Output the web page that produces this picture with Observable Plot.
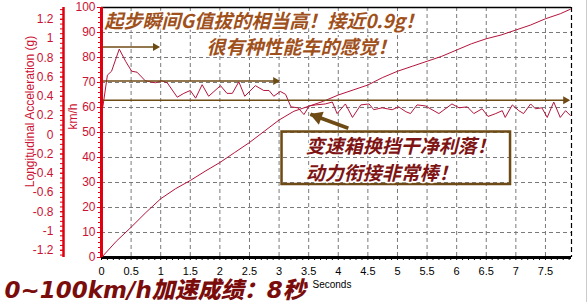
<!DOCTYPE html>
<html><head><meta charset="utf-8">
<script src="https://cdn.jsdelivr.net/npm/d3@7"></script>
<script src="https://cdn.jsdelivr.net/npm/@observablehq/plot@0.6"></script>
<style>body{margin:0;background:#fff} #chart svg{display:block}</style>
</head><body><div id="chart"></div>
<script>
// ---- data ----
const xMax = 7.94;
const speedT = [0, 0.25, 0.5, 0.75, 1.0, 1.25, 1.5, 1.75, 2.0, 2.25, 2.5, 2.75, 3.0, 3.25, 3.5, 3.75, 4.0, 4.25, 4.5, 4.75, 5.0, 5.25, 5.5, 5.75, 6.0, 6.25, 6.5, 6.75, 7.0, 7.25, 7.5, 7.75, 7.92];
const speedV = [0, 6.5, 12.1, 18, 23.5, 27.5, 30.8, 34.5, 38, 42, 46, 50.5, 55, 58.5, 60.5, 62.5, 65, 67, 69, 72, 74.5, 76.5, 78.5, 80.5, 83, 85.5, 87.5, 89, 91, 93, 95.5, 97.5, 99.3];
const accT = [0, 0.03, 0.1, 0.17, 0.30, 0.41, 0.51, 0.60, 0.74, 0.91, 1.02, 1.11, 1.28, 1.39, 1.50, 1.59, 1.70, 1.81, 2.01, 2.12, 2.21, 2.32, 2.42, 2.60, 2.74, 2.83, 2.91, 3.02, 3.11, 3.20, 3.32, 3.42, 3.51, 3.62, 3.78, 3.90, 3.98, 4.12, 4.24, 4.38, 4.52, 4.60, 4.74, 4.91, 5.02, 5.14, 5.22, 5.33, 5.47, 5.70, 5.92, 6.04, 6.18, 6.29, 6.43, 6.53, 6.66, 6.77, 6.82, 6.94, 7.05, 7.13, 7.25, 7.33, 7.44, 7.53, 7.64, 7.75, 7.84, 7.92];
const accG = [0.22, 0.32, 0.62, 0.66, 0.89, 0.76, 0.66, 0.65, 0.56, 0.54, 0.56, 0.54, 0.39, 0.43, 0.46, 0.38, 0.52, 0.40, 0.51, 0.43, 0.43, 0.55, 0.40, 0.51, 0.46, 0.46, 0.40, 0.45, 0.42, 0.29, 0.28, 0.21, 0.30, 0.31, 0.32, 0.34, 0.22, 0.32, 0.18, 0.31, 0.32, 0.26, 0.28, 0.26, 0.29, 0.24, 0.22, 0.31, 0.30, 0.22, 0.32, 0.28, 0.29, 0.22, 0.27, 0.19, 0.22, 0.25, 0.18, 0.31, 0.25, 0.22, 0.32, 0.27, 0.28, 0.18, 0.34, 0.18, 0.25, 0.20];

const xTicks = [0, 0.5, 1, 1.5, 2, 2.5, 3, 3.5, 4, 4.5, 5, 5.5, 6, 6.5, 7, 7.5];
const speedTicks = [0, 10, 20, 30, 40, 50, 60, 70, 80, 90, 100];
const gTicks = [-1.2, -1, -0.8, -0.6, -0.4, -0.2, 0, 0.2, 0.4, 0.6, 0.8, 1, 1.2];
const gridX = [0.5, 1, 1.5, 2, 2.5, 3, 3.5, 4, 4.5, 5, 5.5, 6, 6.5, 7, 7.5];
const gridY = [10, 20, 30, 40, 50, 60, 70, 80, 90];

// annotation arrows (x in seconds, y in km/h units)
const arrowX2 = [0.96, 2.99, 7.89];
const arrowY = [84.2, 70.6, 62.9];
const diagTail = [4.17, 51.7];
const diagTip = [3.53, 57.3];
const noteTop = ["起步瞬间G值拔的相当高！接近0.9g！", "很有种性能车的感觉！"];
const noteTopX = [2.75, 3.38];
const noteTopY = [94.1, 83.7];
const noteBox = ["变速箱换挡干净利落！", "动力衔接非常棒！"];
const noteBoxX = [3.45, 3.45];
const noteBoxY = [44.4, 33.6];
const boxX = [3.05, 6.91];
const boxY = [29.2, 50.2];
const bottomTitle = "0~100km/h加速成绩：8秒";

// g axis shares the vertical space with km/h axis
const gToV = g => 49.1 + 38.5 * g;
const vToG = v => (v - 49.1) / 38.5;

const red = "#e00010";
const labelRed = "#cc1133";
const lineCol = "#b4143c";
const brown = "#6e4a14";

const speed = speedT.map((t, i) => ({t, v: speedV[i]}));
const acc = accT.map((t, i) => ({t, v: gToV(accG[i])}));
const xMinor = d3.range(0, 80).map(i => i / 10);
const vMinor = d3.range(0, 101, 2);
const gMinor = d3.range(-25, 27).map(i => gToV(i * 0.05));
const arrows = arrowX2.map((x2, i) => ({x1: 0, x2, y: arrowY[i]}));

const cjk = "'Noto Sans CJK SC', sans-serif";

const chart = Plot.plot({
  width: 588, height: 302,
  marginLeft: 101, marginRight: 17, marginTop: 7, marginBottom: 45,
  style: {fontFamily: "'Liberation Sans', Arial, sans-serif", background: "white", overflow: "visible"},
  x: {domain: [0, xMax]},
  y: {domain: [0, 100]},
  marks: [
    Plot.ruleX(gridX, {stroke: "#7a7a7a", strokeDasharray: "4,3", strokeWidth: 1}),
    Plot.ruleY(gridY, {stroke: "#7a7a7a", strokeDasharray: "4,3", strokeWidth: 1}),
    Plot.ruleY([100], {stroke: "black", strokeWidth: 1.5}),
    Plot.ruleX([xMax], {stroke: "black", strokeDasharray: "5,3", strokeWidth: 1.2}),
    Plot.ruleX([xMax], {dx: 15, stroke: "#cccccc", strokeWidth: 1, y1: 100, y2: 0, insetTop: -7, insetBottom: -45}),
    // data lines
    Plot.line(speed, {x: "t", y: "v", stroke: lineCol, strokeWidth: 1}),
    Plot.line(acc, {x: "t", y: "v", stroke: lineCol, strokeWidth: 1}),
    // horizontal brown arrows
    Plot.link(arrows, {x1: "x1", x2: "x2", y1: "y", y2: "y", stroke: brown, strokeWidth: 1.5}),
    Plot.dot(arrows, {x: "x2", y: "y", symbol: "triangle", rotate: 90, r: 3, fill: brown, stroke: null, dx: -3}),
    // box and diagonal arrow
    Plot.rect([0], {x1: boxX[0], x2: boxX[1], y1: boxY[0], y2: boxY[1], fill: "none", stroke: brown, strokeWidth: 2.5}),
    Plot.link([0], {x1: diagTail[0], y1: diagTail[1], x2: diagTip[0], y2: diagTip[1], stroke: brown, strokeWidth: 3.5}),
    Plot.dot([0], {x: diagTip[0], y: diagTip[1], symbol: "triangle", rotate: -70, r: 5.2, fill: brown, stroke: null, dx: 7, dy: 2.6}),
    // x axis
    Plot.ruleY([0], {stroke: "black", strokeWidth: 3}),
    Plot.axisX(xMinor, {tickSize: 3, tickFormat: () => "", color: "black", label: null}),
    Plot.axisX(xTicks, {tickSize: 0, tickPadding: 10, tickFormat: d => String(d), fontSize: 11, color: "black", label: null}),
    // km/h axis
    Plot.axisY(vMinor, {tickSize: 3, tickFormat: () => "", color: red, label: null}),
    Plot.axisY(speedTicks, {tickSize: 4, tickPadding: 2, fontSize: 12, color: labelRed, stroke: red, label: null}),
    Plot.ruleX([0], {stroke: red, strokeWidth: 3}),
    // g axis
    Plot.axisY(gMinor, {dx: -38, tickSize: 3, tickFormat: () => "", color: red, label: null}),
    Plot.axisY(gTicks.map(gToV), {dx: -38, tickSize: 3, tickPadding: 7, fontSize: 12, color: labelRed, stroke: red,
      tickFormat: d => String(+vToG(d).toFixed(1)), label: null}),
    Plot.ruleX([0], {dx: -38, stroke: red, strokeWidth: 2.5}),
    // axis titles
    Plot.text(["Longitudinal Acceleration (g)"], {frameAnchor: "left", textAnchor: "middle", lineAnchor: "middle", dx: -71, dy: -21, rotate: -90, fontSize: 12, fill: labelRed}),
    Plot.text(["km/h"], {frameAnchor: "left", textAnchor: "middle", lineAnchor: "middle", dx: -28, dy: -16, rotate: -90, fontSize: 12, fill: labelRed}),
    Plot.text(["Seconds"], {frameAnchor: "bottom-left", dx: 211, dy: 30, textAnchor: "start", fontSize: 10, fill: "black"}),
    // annotation texts
    Plot.text(noteTop, {x: (d, i) => noteTopX[i], y: (d, i) => noteTopY[i], text: d => d, fontFamily: cjk, fontWeight: "bold", fontStyle: "italic", fontSize: 19, fill: "#a0501a", stroke: "white", strokeWidth: 3}),
    Plot.text(noteBox, {x: (d, i) => noteBoxX[i], y: (d, i) => noteBoxY[i], text: d => d, textAnchor: "start", fontFamily: cjk, fontWeight: "bold", fontStyle: "italic", fontSize: 19, fill: "#7e1414", stroke: "white", strokeWidth: 3}),
    Plot.text([bottomTitle], {frameAnchor: "bottom-left", dx: -97, dy: 40, textAnchor: "start", lineAnchor: "bottom", fontFamily: "'DejaVu Sans', 'Noto Sans CJK SC', sans-serif", fontWeight: 900, fontStyle: "italic", fontSize: 23, fill: "#7b0c0c"})
  ]
});
document.getElementById("chart").append(chart);
</script>
</body></html>
